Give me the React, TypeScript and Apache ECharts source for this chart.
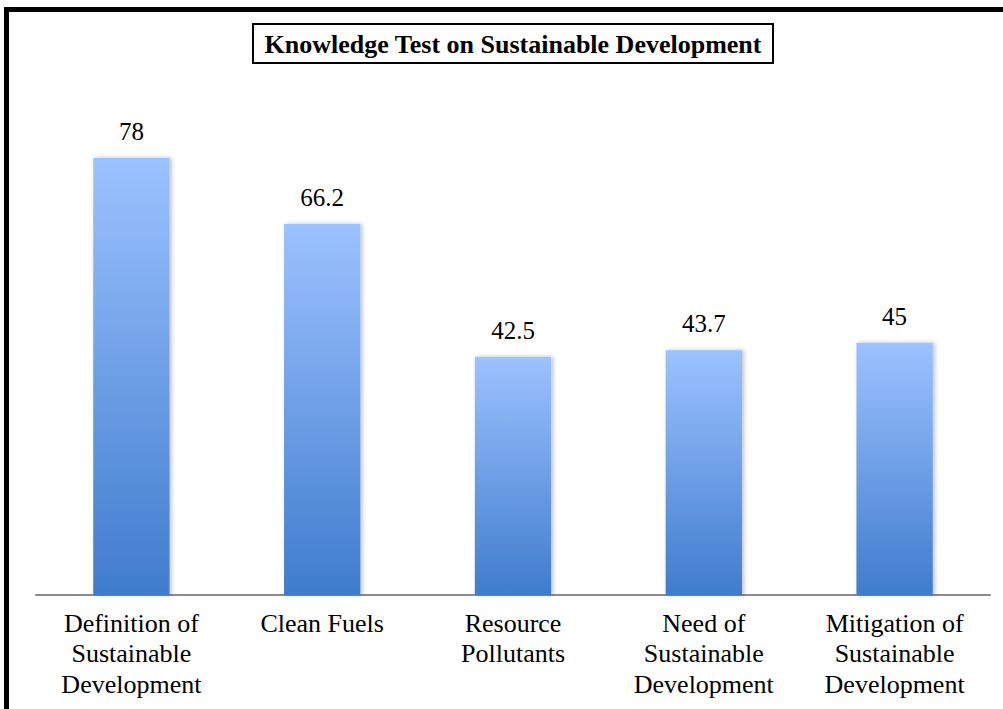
import React, { useEffect, useRef } from "react";
import * as echarts from "echarts";

const titleText = "Knowledge Test on Sustainable Development";
const categories = [
  "Definition of\nSustainable\nDevelopment",
  "Clean Fuels",
  "Resource\nPollutants",
  "Need of\nSustainable\nDevelopment",
  "Mitigation of\nSustainable\nDevelopment",
];
const values = [78, 66.2, 42.5, 43.7, 45];

const serif = "Liberation Serif";

export default function App() {
  const ref = useRef<HTMLDivElement>(null);
  useEffect(() => {
    if (!ref.current) return;
    const chart = echarts.init(ref.current, null, { renderer: "svg" });
    chart.setOption({
      animation: false,
      backgroundColor: "#ffffff",
      grid: { left: 36, right: 13, top: 34.7, bottom: 114 },
      xAxis: {
        type: "category",
        data: categories,
        boundaryGap: true,
        axisLine: { show: true, lineStyle: { color: "#8c8c8c", width: 2 } },
        axisTick: { show: false },
        axisLabel: {
          interval: 0,
          color: "#000",
          fontFamily: serif,
          fontSize: 26,
          lineHeight: 30.5,
          margin: 13,
        },
      },
      yAxis: {
        type: "value",
        min: 0,
        max: 100,
        show: false,
        splitLine: { show: false },
      },
      series: [
        {
          type: "bar",
          data: values,
          barWidth: "40%",
          itemStyle: {
            color: new echarts.graphic.LinearGradient(0, 0, 0, 1, [
              { offset: 0, color: "#9cc2ff" },
              { offset: 1, color: "#3f7ccd" },
            ]),
            shadowColor: "rgba(0,0,0,0.25)",
            shadowBlur: 4,
            shadowOffsetX: 2,
            shadowOffsetY: 0,
          },
          label: {
            show: true,
            position: "top",
            distance: 14,
            color: "#000",
            fontFamily: serif,
            fontSize: 25,
          },
        },
      ],
      graphic: [
        {
          type: "line",
          shape: { x1: 4, y1: 9.5, x2: 1003, y2: 9.5 },
          style: { stroke: "#000", lineWidth: 5 },
          z: 100,
        },
        {
          type: "line",
          shape: { x1: 6.5, y1: 7, x2: 6.5, y2: 709 },
          style: { stroke: "#000", lineWidth: 5 },
          z: 100,
        },
        {
          type: "rect",
          shape: { x: 253, y: 24, width: 520, height: 39 },
          style: { fill: "#fff", stroke: "#000", lineWidth: 2 },
          z: 100,
        },
        {
          type: "text",
          x: 513,
          y: 44,
          style: {
            text: titleText,
            fill: "#000",
            fontFamily: serif,
            fontWeight: "bold",
            fontSize: 26,
            align: "center",
            verticalAlign: "middle",
          },
          z: 101,
        },
      ],
    });
    return () => chart.dispose();
  }, []);
  return (
    <div
      ref={ref}
      style={{ position: "absolute", left: 0, top: 0, width: 1003, height: 709 }}
    />
  );
}
